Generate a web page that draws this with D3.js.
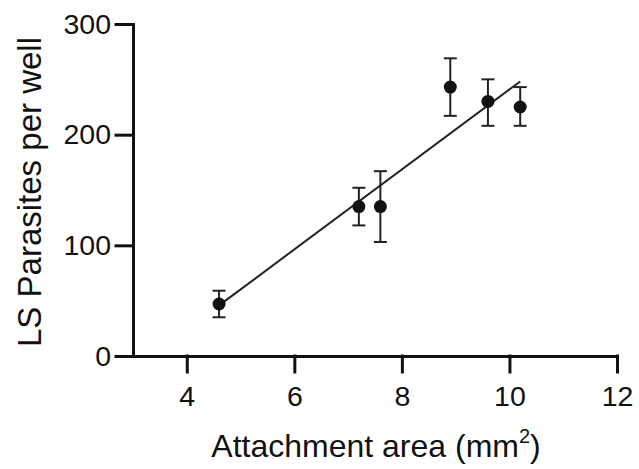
<!DOCTYPE html>
<html lang="en">
<head>
  <meta charset="UTF-8">
  <title>LS Parasites vs attachment area</title>
  <style>
    body { margin: 0; background: #fff; }
    text { font-family: "Liberation Sans", Arial, sans-serif; fill: #111; }
  </style>
</head>
<body>
  <svg id="svg" width="639" height="469"></svg>
  <script src="https://d3js.org/d3.v7.min.js"></script>
  <script>
    // values
    const area = [4.6, 7.2, 7.6, 8.9, 9.6, 10.2]
    const parasites = [47, 135, 135, 243, 230, 225]
    const errUp = [12, 17, 32, 26, 20, 18]
    const errDown = [12, 17, 32, 26, 22, 17]
    const xTicks = [4, 6, 8, 10, 12]
    const yTicks = [0, 100, 200, 300]

    const data = area.map((x, i) => ({ x: x, y: parasites[i], hi: parasites[i] + errUp[i], lo: parasites[i] - errDown[i] }))

    const svg = d3.select('#svg')

    const xScale = d3.scaleLinear()
      .domain([3, 12])
      .range([133, 617])

    const yScale = d3.scaleLinear()
      .domain([0, 300])
      .range([356, 24])

    // least squares fit
    const mx = d3.mean(area)
    const my = d3.mean(parasites)
    const sxy = d3.sum(area, (x, i) => (x - mx) * (parasites[i] - my))
    const sxx = d3.sum(area, x => (x - mx) * (x - mx))
    const slope = sxy / sxx
    const icpt = my - slope * mx
    const xr = d3.extent(area)

    svg.append('line')
      .attr('x1', xScale(xr[0]))
      .attr('y1', yScale(icpt + slope * xr[0]))
      .attr('x2', xScale(xr[1]))
      .attr('y2', yScale(icpt + slope * xr[1]))
      .attr('stroke', '#222')
      .attr('stroke-width', 2)

    // error bars
    const eb = svg.append('g')
      .attr('stroke', '#222')
      .attr('stroke-width', 2)

    eb.selectAll('.stem')
      .data(data)
      .enter()
      .append('line')
      .attr('x1', d => xScale(d.x))
      .attr('x2', d => xScale(d.x))
      .attr('y1', d => yScale(d.hi))
      .attr('y2', d => yScale(d.lo))

    eb.selectAll('.capHi')
      .data(data)
      .enter()
      .append('line')
      .attr('x1', d => xScale(d.x) - 6.5)
      .attr('x2', d => xScale(d.x) + 6.5)
      .attr('y1', d => yScale(d.hi))
      .attr('y2', d => yScale(d.hi))

    eb.selectAll('.capLo')
      .data(data)
      .enter()
      .append('line')
      .attr('x1', d => xScale(d.x) - 6.5)
      .attr('x2', d => xScale(d.x) + 6.5)
      .attr('y1', d => yScale(d.lo))
      .attr('y2', d => yScale(d.lo))

    svg.selectAll('circle')
      .data(data)
      .enter()
      .append('circle')
      .attr('cx', d => xScale(d.x))
      .attr('cy', d => yScale(d.y))
      .attr('r', 6.5)
      .attr('fill', '#111')

    // axes
    const xAxis = svg.append('g')
      .attr('transform', 'translate(0,356)')
      .call(d3.axisBottom(xScale).tickValues(xTicks).tickSize(16).tickSizeOuter(0).tickPadding(14))

    const yAxis = svg.append('g')
      .attr('transform', 'translate(133,0)')
      .call(d3.axisLeft(yScale).tickValues(yTicks).tickSize(17).tickSizeOuter(0).tickPadding(5))

    svg.selectAll('.domain, .tick line')
      .attr('stroke', '#111')
      .attr('stroke-width', 3)
      .attr('stroke-linecap', 'square')

    svg.selectAll('.tick text')
      .style('font-family', '"Liberation Sans", Arial, sans-serif')
      .style('font-size', '28.5px')
      .attr('fill', '#111')

    // titles
    const xt = svg.append('text')
      .attr('x', 376)
      .attr('y', 457)
      .attr('text-anchor', 'middle')
      .style('font-size', '32px')
    xt.append('tspan').text('Attachment area (mm')
    xt.append('tspan').attr('dy', -14).style('font-size', '20px').text('2')
    xt.append('tspan').attr('dy', 14).text(')')

    svg.append('text')
      .attr('transform', 'translate(41,192) rotate(-90)')
      .attr('text-anchor', 'middle')
      .style('font-size', '33px')
      .text('LS Parasites per well')
  </script>
</body>
</html>
